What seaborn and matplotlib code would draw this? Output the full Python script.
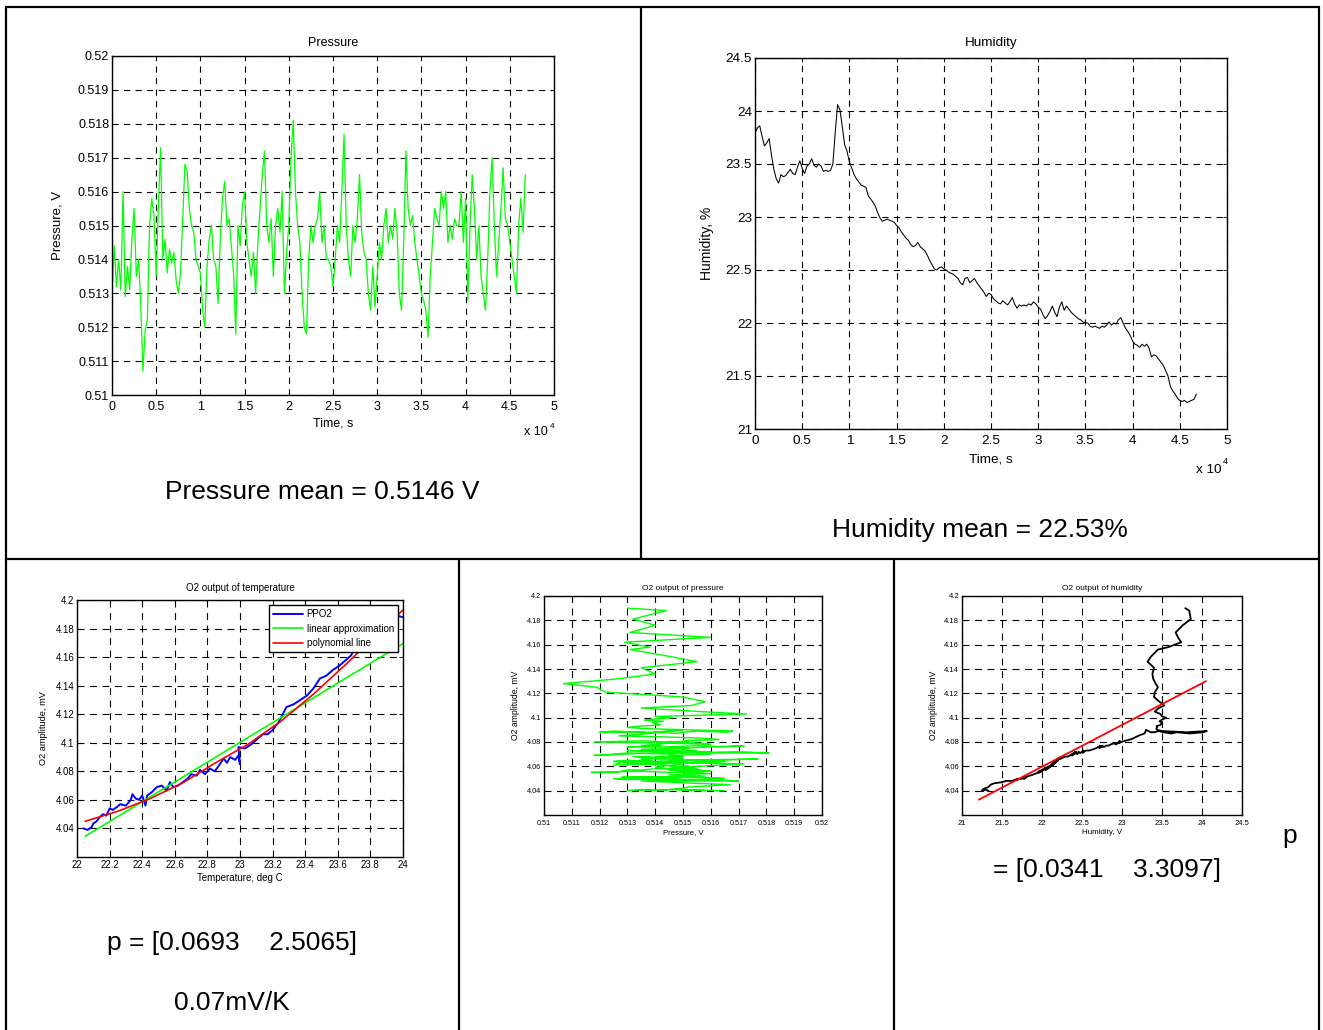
import numpy as np
import matplotlib
matplotlib.use('Agg')
import matplotlib.pyplot as plt
import seaborn as sns
from matplotlib.lines import Line2D

sample_step_s = 250

pressure_mV = [
    513.0, 514.4, 513.2, 514.0, 513.1, 516.0, 512.9, 513.8, 513.1, 514.6,
    515.5, 513.5, 514.0, 512.7, 510.7, 511.9, 512.2, 515.0, 515.8, 515.3,
    513.5, 515.6, 517.3, 514.0, 514.6, 513.6, 514.3, 513.9, 514.2, 513.4,
    513.0, 513.6, 515.2, 516.8, 516.6, 515.5, 515.0, 514.8, 514.0, 513.8,
    513.6, 512.5, 512.0, 513.8, 514.6, 515.0, 514.0, 513.8, 512.7, 514.6,
    515.8, 516.3, 515.0, 515.2, 514.4, 513.6, 511.8, 515.0, 514.4, 515.6,
    516.0, 514.5, 514.0, 513.5, 514.2, 513.0, 514.5, 515.5, 516.5, 517.2,
    515.0, 514.5, 515.2, 513.5, 515.0, 515.5, 514.8, 516.0, 513.0, 514.2,
    515.0, 517.0, 518.1, 516.0, 515.0, 514.5, 513.0, 512.0, 511.8, 514.0,
    515.0, 514.5, 515.0, 515.2, 516.0, 514.5, 515.0, 514.0, 514.0, 513.8,
    513.2, 514.0, 515.0, 514.5, 516.0, 517.7, 515.0, 514.0, 513.5, 515.0,
    514.5, 515.2, 516.5, 514.8, 514.2, 514.0, 513.0, 512.5, 513.8, 512.6,
    513.5, 514.5, 514.0, 515.0, 515.5, 514.5, 515.0, 514.6, 515.5, 514.8,
    513.0, 512.5, 514.5, 517.2, 515.5, 515.0, 515.3, 514.5, 514.0, 513.5,
    513.0, 512.8, 512.5, 511.7, 513.5, 514.5, 515.5, 515.2, 515.0, 516.0,
    515.5, 516.0, 514.5, 515.0, 514.6, 515.2, 515.0, 515.0, 516.0, 514.5,
    515.8, 512.8, 515.0, 516.5, 515.5, 514.0, 515.0, 513.5, 513.0, 512.5,
    514.0, 516.0, 517.0, 515.0, 513.5, 514.5, 515.5, 516.7, 515.2, 515.0,
    514.5, 514.0, 513.5, 513.0, 515.0, 515.8, 514.8, 516.5]

humidity = [
    23.79, 23.84, 23.86, 23.76, 23.67, 23.70, 23.74, 23.58, 23.45, 23.36,
    23.32, 23.40, 23.38, 23.39, 23.42, 23.45, 23.41, 23.40, 23.47, 23.53,
    23.46, 23.41, 23.48, 23.50, 23.55, 23.49, 23.47, 23.50, 23.48, 23.43,
    23.44, 23.43, 23.44, 23.50, 23.80, 24.06, 24.01, 23.85, 23.68, 23.62,
    23.52, 23.46, 23.40, 23.36, 23.33, 23.30, 23.29, 23.28, 23.20, 23.17,
    23.14, 23.10, 23.04, 22.99, 22.96, 22.97, 22.98, 22.97, 22.96, 22.95,
    22.92, 22.90, 22.86, 22.83, 22.80, 22.78, 22.74, 22.72, 22.73, 22.76,
    22.72, 22.70, 22.68, 22.64, 22.59, 22.55, 22.51, 22.50, 22.52, 22.53,
    22.51, 22.50, 22.48, 22.47, 22.46, 22.44, 22.42, 22.38, 22.36, 22.42,
    22.43, 22.38, 22.40, 22.42, 22.38, 22.35, 22.32, 22.29, 22.25, 22.28,
    22.27, 22.23, 22.21, 22.19, 22.18, 22.21, 22.19, 22.17, 22.20, 22.24,
    22.18, 22.14, 22.17, 22.16, 22.17, 22.16, 22.18, 22.17, 22.20, 22.18,
    22.15, 22.13, 22.08, 22.04, 22.07, 22.11, 22.16, 22.10, 22.06, 22.15,
    22.20, 22.12, 22.16, 22.13, 22.10, 22.08, 22.06, 22.04, 22.03, 22.01,
    22.00, 22.00, 21.97, 21.96, 21.97, 21.96, 21.95, 21.97, 21.96, 21.98,
    22.01, 21.98, 22.00, 21.99, 22.03, 22.05, 22.00, 21.95, 21.92, 21.88,
    21.83, 21.80, 21.79, 21.77, 21.80, 21.78, 21.80, 21.76, 21.68, 21.70,
    21.69, 21.66, 21.63, 21.60, 21.55, 21.50, 21.40, 21.36, 21.33, 21.29,
    21.27, 21.26, 21.27, 21.25, 21.26, 21.27, 21.28, 21.33]

o2_amp = [
    4.190, 4.188, 4.181, 4.176, 4.170, 4.166, 4.162, 4.158, 4.156, 4.150,
    4.146, 4.141, 4.136, 4.132, 4.128, 4.125, 4.121, 4.117, 4.113, 4.110,
    4.108, 4.105, 4.103, 4.101, 4.100, 4.098, 4.097, 4.096, 4.094, 4.093,
    4.092, 4.091, 4.090, 4.089, 4.088, 4.089, 4.088, 4.087, 4.088, 4.087,
    4.088, 4.089, 4.088, 4.088, 4.089, 4.090, 4.088, 4.087, 4.085, 4.084,
    4.083, 4.082, 4.081, 4.080, 4.080, 4.081, 4.080, 4.079, 4.080, 4.079,
    4.078, 4.079, 4.078, 4.077, 4.077, 4.076, 4.076, 4.077, 4.076, 4.077,
    4.075, 4.076, 4.075, 4.074, 4.073, 4.073, 4.072, 4.072, 4.073, 4.072,
    4.071, 4.072, 4.071, 4.071, 4.072, 4.070, 4.071, 4.069, 4.069, 4.071,
    4.072, 4.070, 4.071, 4.072, 4.070, 4.069, 4.068, 4.068, 4.067, 4.068,
    4.068, 4.066, 4.066, 4.065, 4.065, 4.066, 4.065, 4.064, 4.066, 4.068,
    4.065, 4.063, 4.064, 4.063, 4.064, 4.063, 4.064, 4.064, 4.065, 4.064,
    4.062, 4.061, 4.059, 4.057, 4.058, 4.060, 4.063, 4.060, 4.058, 4.062,
    4.065, 4.061, 4.063, 4.062, 4.060, 4.060, 4.059, 4.058, 4.058, 4.057,
    4.057, 4.056, 4.055, 4.055, 4.056, 4.055, 4.055, 4.056, 4.055, 4.056,
    4.057, 4.056, 4.057, 4.056, 4.058, 4.059, 4.057, 4.055, 4.054, 4.053,
    4.052, 4.051, 4.051, 4.050, 4.051, 4.050, 4.051, 4.050, 4.049, 4.050,
    4.049, 4.049, 4.048, 4.048, 4.048, 4.047, 4.046, 4.045, 4.043, 4.042,
    4.041, 4.040, 4.041, 4.040, 4.041, 4.040, 4.041, 4.040]

# O2 vs temperature (separate measurement)
temp_ppo2 = [22.04, 22.065, 22.09, 22.10, 22.12, 22.14, 22.16, 22.18, 22.20, 22.22,
             22.245, 22.265, 22.30, 22.33, 22.34, 22.36, 22.38, 22.40, 22.42, 22.43,
             22.46, 22.49, 22.52, 22.55, 22.57, 22.59, 22.62, 22.65, 22.68, 22.70,
             22.735, 22.755, 22.785, 22.815, 22.845, 22.87, 22.90, 22.92, 22.94, 22.97,
             22.99, 23.0, 22.99, 23.03, 23.07, 23.11, 23.14, 23.17, 23.20, 23.235,
             23.285, 23.33, 23.37, 23.41, 23.45, 23.49, 23.53, 23.57, 23.61, 23.65,
             23.68, 23.70, 23.80, 23.90, 23.96, 24.0]
o2_ppo2 = [4.040, 4.039, 4.041, 4.0435, 4.045, 4.048, 4.050, 4.049, 4.054, 4.053,
           4.055, 4.057, 4.056, 4.060, 4.064, 4.061, 4.060, 4.063, 4.056, 4.063,
           4.0655, 4.069, 4.070, 4.0665, 4.0725, 4.069, 4.070, 4.0725, 4.075, 4.078,
           4.077, 4.081, 4.078, 4.082, 4.080, 4.084, 4.089, 4.086, 4.090, 4.088,
           4.091, 4.085, 4.097, 4.096, 4.099, 4.103, 4.106, 4.106, 4.109, 4.114,
           4.125, 4.127, 4.130, 4.133, 4.138, 4.145, 4.147, 4.151, 4.154, 4.158,
           4.161, 4.165, 4.175, 4.184, 4.189, 4.188]
temp_lin = [22.05, 24.0]
o2_lin = [4.0345, 4.1695]
temp_poly = [22.05, 22.25, 22.45, 22.65, 22.85, 23.05, 23.25, 23.45, 23.65, 23.85, 24.0]
o2_poly = [4.045, 4.052, 4.061, 4.072, 4.086, 4.099, 4.115, 4.134, 4.155, 4.177, 4.193]

# linear fit of O2 vs humidity
hum_fit = [21.21, 24.05]
o2_hum_fit = [4.0326, 4.130]

time_s = np.arange(len(pressure_mV)) * sample_step_s
pressure = np.array(pressure_mV) / 1000.0

# --- layout helpers (pixel coords, top-left origin) ---
W, H = 1323, 1030


def fx(x):
    return x / W


def fy(y):
    return 1 - y / H


def rect(x0, y0, x1, y1):
    return [x0 / W, 1 - y1 / H, (x1 - x0) / W, (y1 - y0) / H]


def g(v):
    return f'{round(v, 6):g}'


def style_axes(ax, xticks, xlabels, yticks, xlim, ylim, fs, dash, xpad=2):
    ax.set_xlim(xlim)
    ax.set_ylim(ylim)
    ax.set_xticks(xticks)
    ax.set_xticklabels(xlabels)
    ax.set_yticks(yticks)
    ax.set_yticklabels([g(v) for v in yticks])
    ax.grid(True, color='black', linestyle=(0, dash), linewidth=0.8)
    ax.tick_params(direction='in', top=True, right=True, labelsize=fs,
                   length=3, width=0.6, pad=2)
    ax.tick_params(axis='x', pad=xpad)
    for s in ax.spines.values():
        s.set_visible(True)
        s.set_linewidth(1.0)
        s.set_color('black')


sns.set_theme(style='white', rc={
    'axes.edgecolor': 'black',
    'text.color': 'black',
    'axes.labelcolor': 'black',
    'xtick.color': 'black',
    'ytick.color': 'black',
    'lines.scale_dashes': False,
})
plt.rcParams['font.family'] = ['Liberation Sans', 'DejaVu Sans']

fig = plt.figure(figsize=(13.23, 10.30), dpi=100)

# 1. Pressure
ax1 = fig.add_axes(rect(112, 56, 554, 395))
sns.lineplot(x=time_s, y=pressure, ax=ax1, color='#00ff00', linewidth=0.9,
             sort=False, estimator=None)
t_ticks = np.arange(0, 50001, 5000)
style_axes(ax1, t_ticks, [g(v / 1e4) for v in t_ticks],
           np.round(np.arange(510, 521) / 1000, 3), (0, 50000), (0.510, 0.520),
           9, (4.5, 3.8), xpad=4.5)
ax1.set_title('Pressure', fontsize=9, pad=7.5)
ax1.set_xlabel('Time, s', fontsize=9)
ax1.set_ylabel('Pressure, V', fontsize=9.5)
ax1.xaxis.set_label_coords(0.5, -0.065)
ax1.yaxis.set_label_coords(-0.109, 0.5)
fig.text(fx(523.5), fy(435), 'x 10', fontsize=9, ha='left', va='baseline')
fig.text(fx(549.5), fy(428), '4', fontsize=6, ha='left', va='baseline')

# 2. Humidity
ax2 = fig.add_axes(rect(755, 58, 1227, 429))
sns.lineplot(x=time_s, y=humidity, ax=ax2, color='black', linewidth=0.75,
             sort=False, estimator=None)
style_axes(ax2, t_ticks, [g(v / 1e4) for v in t_ticks],
           np.arange(21, 24.51, 0.5), (0, 50000), (21, 24.5), 9.7, (4.5, 3.8),
           xpad=4.5)
ax2.set_title('Humidity', fontsize=9.7, pad=8.5)
ax2.set_xlabel('Time, s', fontsize=9.7)
ax2.set_ylabel('Humidity, %', fontsize=10)
ax2.xaxis.set_label_coords(0.5, -0.065)
ax2.yaxis.set_label_coords(-0.087, 0.5)
fig.text(fx(1196), fy(473), 'x 10', fontsize=9.7, ha='left', va='baseline')
fig.text(fx(1222.5), fy(464), '4', fontsize=6.5, ha='left', va='baseline')

fig.text(fx(322.5), fy(499), 'Pressure mean = 0.5146 V', fontsize=19,
         ha='center', va='baseline')
fig.text(fx(979.5), fy(537), 'Humidity mean = 22.53%', fontsize=19,
         ha='center', va='baseline')

# 3. O2 vs temperature
o2_ticks = np.round(np.arange(4.04, 4.201, 0.02), 2)
ax3 = fig.add_axes(rect(77, 600, 403, 857))
sns.lineplot(x=temp_ppo2, y=o2_ppo2, ax=ax3, color='#0000ff', linewidth=1.4,
             sort=False, estimator=None, label='PPO2')
sns.lineplot(x=temp_lin, y=o2_lin, ax=ax3, color='#00ff00', linewidth=1.2,
             sort=False, estimator=None, label='linear approximation')
sns.lineplot(x=temp_poly, y=o2_poly, ax=ax3, color='#ff0000', linewidth=1.2,
             sort=False, estimator=None, label='polynomial line')
temp_ticks = np.round(np.arange(22, 24.01, 0.2), 1)
style_axes(ax3, temp_ticks, [g(v) for v in temp_ticks], o2_ticks,
           (22, 24), (4.02, 4.2), 7, (5.0, 4.0))
ax3.set_title('O2 output of temperature', fontsize=7, pad=6.5)
ax3.set_xlabel('Temperature, deg C', fontsize=7)
ax3.set_ylabel('O2 amplitude, mV', fontsize=6.7)
ax3.xaxis.set_label_coords(0.5, -0.062)
ax3.yaxis.set_label_coords(-0.089, 0.5)
leg = ax3.legend(loc='upper right', fontsize=7, frameon=True, fancybox=False,
                 edgecolor='black', framealpha=1, handlelength=3.0,
                 handletextpad=0.4, labelspacing=0.45, borderpad=0.45,
                 borderaxespad=0.5)
leg.get_frame().set_linewidth(1.0)

fig.text(fx(232), fy(950), 'p = [0.0693    2.5065]', fontsize=19,
         ha='center', va='baseline')
fig.text(fx(232), fy(1010), '0.07mV/K', fontsize=19, ha='center', va='baseline')

# 4. O2 vs pressure
ax4 = fig.add_axes(rect(544, 596, 822, 815))
sns.lineplot(x=pressure, y=o2_amp, ax=ax4, color='#00ff00', linewidth=1.0,
             sort=False, estimator=None)
p_ticks = np.round(np.arange(510, 521) / 1000, 3)
style_axes(ax4, p_ticks, [g(v) for v in p_ticks], o2_ticks,
           (0.510, 0.520), (4.02, 4.2), 5.2, (5.0, 4.0), xpad=3.5)
ax4.set_title('O2 output of pressure', fontsize=6, pad=4)
ax4.set_xlabel('Pressure, V', fontsize=5.6)
ax4.set_ylabel('O2 amplitude, mV', fontsize=6.2)
ax4.xaxis.set_label_coords(0.5, -0.065)
ax4.yaxis.set_label_coords(-0.086, 0.5)

# 5. O2 vs humidity
ax5 = fig.add_axes(rect(962, 596, 1242, 815))
sns.lineplot(x=humidity, y=o2_amp, ax=ax5, color='black', linewidth=1.3,
             sort=False, estimator=None)
sns.lineplot(x=hum_fit, y=o2_hum_fit, ax=ax5, color='#ff0000', linewidth=1.3,
             sort=False, estimator=None)
h_ticks = np.arange(21, 24.51, 0.5)
style_axes(ax5, h_ticks, [g(v) for v in h_ticks], o2_ticks,
           (21, 24.5), (4.02, 4.2), 5.5, (5.0, 4.0), xpad=3.5)
ax5.set_title('O2 output of humidity', fontsize=6, pad=4)
ax5.set_xlabel('Humidity, V', fontsize=5.8)
ax5.set_ylabel('O2 amplitude, mV', fontsize=6.2)
ax5.xaxis.set_label_coords(0.5, -0.065)
ax5.yaxis.set_label_coords(-0.086, 0.5)

fig.text(fx(1290), fy(843), 'p', fontsize=19, ha='center', va='baseline')
fig.text(fx(1107), fy(877), '= [0.0341    3.3097]', fontsize=19,
         ha='center', va='baseline')

# table borders
segs = [
    ((6, 1319), (7, 7)),
    ((6, 6), (7, 1030)),
    ((1319, 1319), (7, 1030)),
    ((6, 1319), (559, 559)),
    ((641, 641), (7, 559)),
    ((459, 459), (559, 1030)),
    ((894, 894), (559, 1030)),
]
for xs, ys in segs:
    fig.add_artist(Line2D([fx(x) for x in xs], [fy(y) for y in ys],
                          transform=fig.transFigure, color='black', linewidth=1.6))

fig.savefig('out.png', dpi=100)
